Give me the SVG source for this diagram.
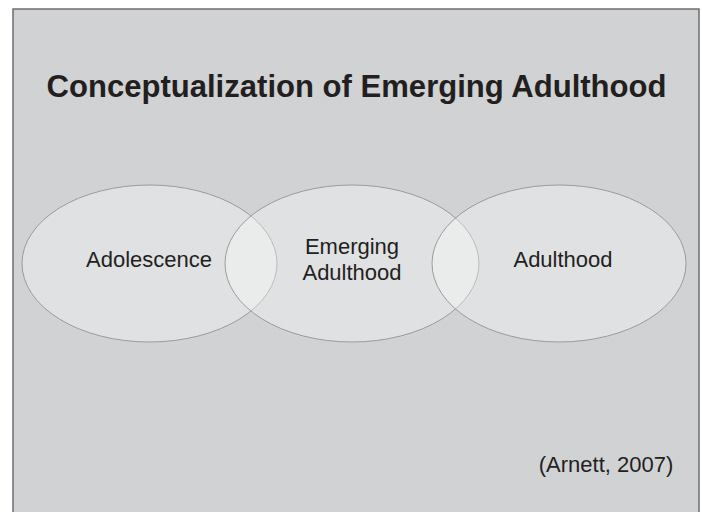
<svg xmlns="http://www.w3.org/2000/svg" width="702" height="512" viewBox="0 0 702 512">
<style>
.frame{fill:#d1d2d4;stroke:#6d6e71;stroke-width:1.5}
.circle{fill:#ffffff;fill-opacity:0.33;stroke:#9a9b9d;stroke-width:1}
.lbl{font-family:"Liberation Sans",Arial,sans-serif;font-size:22px;fill:#231f20;text-anchor:middle}
.title{font-family:"Liberation Sans",Arial,sans-serif;font-size:30.5px;font-weight:bold;fill:#231f20;text-anchor:middle}
</style>
<rect width="702" height="512" fill="#ffffff"/>
<rect class="frame" x="13" y="9" width="686" height="520"/>
<text class="title" x="356.5" y="97" textLength="620" lengthAdjust="spacingAndGlyphs">Conceptualization of Emerging Adulthood</text>
<g id="adolescence">
<ellipse class="circle" cx="149.5" cy="263.5" rx="127.5" ry="78.5"/>
<text class="lbl" x="149" y="267">Adolescence</text>
</g>
<g id="emerging-adulthood">
<ellipse class="circle" cx="352" cy="263.5" rx="127" ry="78.5"/>
<text class="lbl" x="352" y="254">Emerging</text>
<text class="lbl" x="352" y="280">Adulthood</text>
</g>
<g id="adulthood">
<ellipse class="circle" cx="559" cy="263.5" rx="127" ry="78.5"/>
<text class="lbl" x="563" y="267">Adulthood</text>
</g>
<g id="connectors"></g>
<text class="lbl" x="606" y="472">(Arnett, 2007)</text>
</svg>
